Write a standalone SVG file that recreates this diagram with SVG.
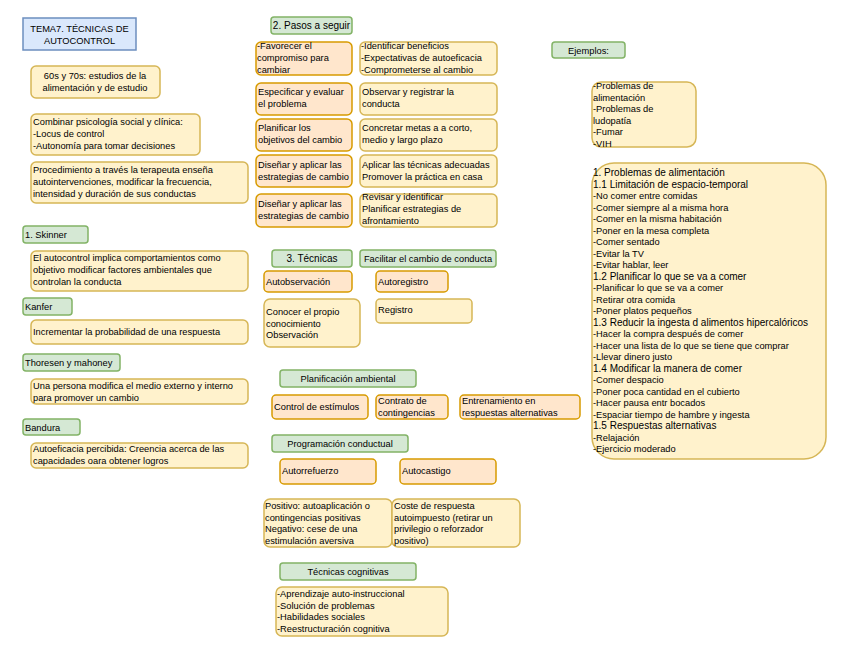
<svg xmlns="http://www.w3.org/2000/svg" width="848" height="653" viewBox="0 0 848 653">
<style>
rect{stroke-width:1.5}
.b{fill:#dae8fc;stroke:#6c8ebf}
.y{fill:#fff2cc;stroke:#d6b656}
.o{fill:#ffe6cc;stroke:#d79b00}
.g{fill:#d5e8d4;stroke:#82b366}
text{font-family:"Liberation Sans",Arial,sans-serif;font-size:9.3px;fill:#000}
.c{text-anchor:middle}
.h{font-size:10px}
</style>
<rect width="848" height="653" fill="#ffffff"/>
<g id="connectors"></g>

<g id="title"><rect class="b" x="23" y="18" width="113" height="32"/>
<text class="c" x="79.5" y="32">TEMA7. TÉCNICAS DE</text><text class="c" x="79.5" y="44">AUTOCONTROL</text></g>

<g id="n60s"><rect class="y" x="31" y="66" width="129" height="32" rx="5"/>
<text class="c" x="95" y="79">60s y 70s: estudios de la</text><text class="c" x="95" y="91">alimentación y de estudio</text></g>

<g id="combinar"><rect class="y" x="31" y="114" width="169" height="41" rx="5"/>
<text x="33" y="125">Combinar psicología social y clínica:</text><text x="33" y="137">-Locus de control</text><text x="33" y="149">-Autonomía para tomar decisiones</text></g>

<g id="procedimiento"><rect class="y" x="31" y="162" width="217" height="41" rx="5"/>
<text x="33" y="173">Procedimiento a través la terapeuta enseña</text><text x="33" y="185">autointervenciones, modificar la frecuencia,</text><text x="33" y="197">intensidad y duración de sus conductas</text></g>

<g id="skinner"><rect class="g" x="23" y="226" width="65" height="17" rx="3"/><text x="25" y="238">1. Skinner</text></g>
<g id="skinnerText"><rect class="y" x="31" y="251" width="217" height="40" rx="5"/>
<text x="33" y="261">El autocontrol implica comportamientos como</text><text x="33" y="273">objetivo modificar factores ambientales que</text><text x="33" y="285">controlan la conducta</text></g>

<g id="kanfer"><rect class="g" x="23" y="298" width="49" height="17" rx="3"/><text x="25" y="310">Kanfer</text></g>
<g id="kanferText"><rect class="y" x="31" y="320" width="217" height="24" rx="5"/>
<text x="33" y="335">Incrementar la probabilidad de una respuesta</text></g>

<g id="thoresen"><rect class="g" x="23" y="354" width="97" height="17" rx="3"/><text x="25" y="366">Thoresen y mahoney</text></g>
<g id="thoresenText"><rect class="y" x="31" y="379" width="217" height="25" rx="5"/>
<text x="33" y="389">Una persona modifica el medio externo y interno</text><text x="33" y="401">para promover un cambio</text></g>

<g id="bandura"><rect class="g" x="23" y="419" width="57" height="16" rx="3"/><text x="25" y="431">Bandura</text></g>
<g id="banduraText"><rect class="y" x="31" y="443" width="217" height="25" rx="5"/>
<text x="33" y="452">Autoeficacia percibida: Creencia acerca de las</text><text x="33" y="464">capacidades oara obtener logros</text></g>

<g id="pasos"><rect class="g" x="271" y="17" width="81" height="17" rx="3"/><text class="c h" x="311.5" y="29">2. Pasos a seguir</text></g>

<g id="p1a"><rect class="o" x="256" y="42" width="96" height="33" rx="5"/>
<text x="257" y="49">-Favorecer el</text><text x="257" y="61">compromiso para</text><text x="257" y="73">cambiar</text></g>
<g id="p1b"><rect class="y" x="360" y="42" width="137" height="33" rx="5"/>
<text x="361" y="49">-Identificar beneficios</text><text x="361" y="61">-Expectativas de autoeficacia</text><text x="361" y="73">-Comprometerse al cambio</text></g>

<g id="p2a"><rect class="o" x="256" y="83" width="96" height="32" rx="5"/>
<text x="258" y="95">Especificar y evaluar</text><text x="258" y="107">el problema</text></g>
<g id="p2b"><rect class="y" x="360" y="83" width="137" height="32" rx="5"/>
<text x="362" y="95">Observar y registrar la</text><text x="362" y="107">conducta</text></g>

<g id="p3a"><rect class="o" x="256" y="119" width="96" height="32" rx="5"/>
<text x="258" y="131">Planificar los</text><text x="258" y="143">objetivos del cambio</text></g>
<g id="p3b"><rect class="y" x="360" y="119" width="137" height="32" rx="5"/>
<text x="362" y="131">Concretar metas a a corto,</text><text x="362" y="143">medio y largo plazo</text></g>

<g id="p4a"><rect class="o" x="256" y="155" width="96" height="32" rx="5"/>
<text x="258" y="168">Diseñar y aplicar las</text><text x="258" y="180">estrategias de cambio</text></g>
<g id="p4b"><rect class="y" x="360" y="155" width="137" height="32" rx="5"/>
<text x="362" y="168">Aplicar las técnicas adecuadas</text><text x="362" y="180">Promover la práctica en casa</text></g>

<g id="p5a"><rect class="o" x="256" y="194" width="96" height="33" rx="5"/>
<text x="258" y="207">Diseñar y aplicar las</text><text x="258" y="219">estrategias de cambio</text></g>
<g id="p5b"><rect class="y" x="360" y="194" width="137" height="33" rx="5"/>
<text x="362" y="200">Revisar y identificar</text><text x="362" y="212">Planificar estrategias de</text><text x="362" y="224">afrontamiento</text></g>

<g id="tecnicas"><rect class="g" x="272" y="250" width="80" height="17" rx="3"/><text class="c h" x="312" y="262">3. Técnicas</text></g>
<g id="facilitar"><rect class="g" x="360" y="250" width="136" height="17" rx="3"/><text class="c" x="428" y="262">Facilitar el cambio de conducta</text></g>

<g id="autobservacion"><rect class="o" x="264" y="271" width="88" height="21" rx="4"/><text x="266" y="285">Autobservación</text></g>
<g id="autoregistro"><rect class="o" x="376" y="271" width="72" height="21" rx="4"/><text x="378" y="285">Autoregistro</text></g>
<g id="conocer"><rect class="y" x="264" y="299" width="96" height="48" rx="6"/>
<text x="266" y="315">Conocer el propio</text><text x="266" y="327">conocimiento</text><text x="266" y="338">Observación</text></g>
<g id="registro"><rect class="y" x="376" y="299" width="96" height="24" rx="4"/><text x="378" y="313">Registro</text></g>

<g id="planificacion"><rect class="g" x="280" y="370" width="136" height="17" rx="3"/><text class="c" x="348" y="382">Planificación ambiental</text></g>
<g id="control"><rect class="o" x="272" y="395" width="96" height="24" rx="4"/><text x="274" y="410">Control de estímulos</text></g>
<g id="contrato"><rect class="o" x="376" y="395" width="72" height="24" rx="4"/><text x="378" y="404">Contrato de</text><text x="378" y="416">contingencias</text></g>
<g id="entrenamiento"><rect class="o" x="460" y="395" width="120" height="24" rx="4"/><text x="462" y="404">Entrenamiento en</text><text x="462" y="416">respuestas alternativas</text></g>

<g id="programacion"><rect class="g" x="272" y="435" width="136" height="17" rx="3"/><text class="c" x="340" y="447">Programación conductual</text></g>
<g id="autorrefuerzo"><rect class="o" x="280" y="459" width="96" height="25" rx="4"/><text x="282" y="474">Autorrefuerzo</text></g>
<g id="autocastigo"><rect class="o" x="400" y="459" width="96" height="25" rx="4"/><text x="402" y="474">Autocastigo</text></g>
<g id="positivo"><rect class="y" x="264" y="499" width="128" height="48" rx="6"/>
<text x="265" y="509">Positivo: autoaplicación o</text><text x="265" y="520.5">contingencias positivas</text><text x="265" y="532">Negativo: cese de una</text><text x="265" y="543.5">estimulación aversiva</text></g>
<g id="coste"><rect class="y" x="392" y="499" width="128" height="48" rx="6"/>
<text x="394" y="509">Coste de respuesta</text><text x="394" y="520.5">autoimpuesto (retirar un</text><text x="394" y="532">privilegio o reforzador</text><text x="394" y="543.5">positivo)</text></g>

<g id="cognitivas"><rect class="g" x="280" y="563" width="136" height="17" rx="3"/><text class="c" x="348" y="575">Técnicas cognitivas</text></g>
<g id="aprendizaje"><rect class="y" x="276" y="587" width="172" height="49" rx="6"/>
<text x="277" y="597">-Aprendizaje auto-instruccional</text><text x="277" y="608.5">-Solución de problemas</text><text x="277" y="620">-Habilidades sociales</text><text x="277" y="631.5">-Reestructuración cognitiva</text></g>

<g id="ejemplos"><rect class="g" x="552" y="42" width="73" height="16" rx="3"/><text class="c" x="588.5" y="54">Ejemplos:</text></g>
<g id="ejemplosList"><rect class="y" x="592" y="82" width="104" height="65" rx="9"/>
<text x="593" y="89">-Problemas de</text><text x="593" y="100.5">alimentación</text><text x="593" y="112">-Problemas de</text><text x="593" y="123.5">ludopatía</text><text x="593" y="135">-Fumar</text><text x="593" y="146.5">-VIH</text></g>

<g id="alimentacion"><rect class="y" x="592" y="163" width="234" height="296" rx="22"/>
<text x="593" y="176" class="h">1. Problemas de alimentación</text>
<text x="593" y="187.5" class="h">1.1 Limitación de espacio-temporal</text>
<text x="593" y="199">-No comer entre comidas</text>
<text x="593" y="210.5">-Comer siempre al a misma hora</text>
<text x="593" y="222">-Comer en la misma habitación</text>
<text x="593" y="233.5">-Poner en la mesa completa</text>
<text x="593" y="245">-Comer sentado</text>
<text x="593" y="256.5">-Evitar la TV</text>
<text x="593" y="268">-Evitar hablar, leer</text>
<text x="593" y="279.5" class="h">1.2 Planificar lo que se va a comer</text>
<text x="593" y="291">-Planificar lo que se va a comer</text>
<text x="593" y="302.5">-Retirar otra comida</text>
<text x="593" y="314">-Poner platos pequeños</text>
<text x="593" y="325.5" class="h">1.3 Reducir la ingesta d alimentos hipercalóricos</text>
<text x="593" y="337">-Hacer la compra después de comer</text>
<text x="593" y="348.5">-Hacer una lista de lo que se tiene que comprar</text>
<text x="593" y="360">-Llevar dinero justo</text>
<text x="593" y="371.5" class="h">1.4 Modificar la manera de comer</text>
<text x="593" y="383">-Comer despacio</text>
<text x="593" y="394.5">-Poner poca cantidad en el cubierto</text>
<text x="593" y="406">-Hacer pausa entr bocados</text>
<text x="593" y="417.5">-Espaciar tiempo de hambre y ingesta</text>
<text x="593" y="429" class="h">1.5 Respuestas alternativas</text>
<text x="593" y="440.5">-Relajación</text>
<text x="593" y="452">-Ejercicio moderado</text></g>
</svg>
